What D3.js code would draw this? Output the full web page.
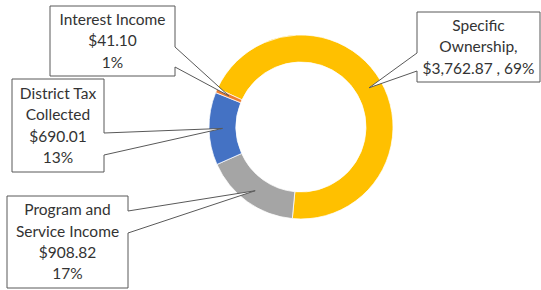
<!DOCTYPE html>
<html>
<head>
<meta charset="utf-8">
<script src="https://cdn.jsdelivr.net/npm/d3@7"></script>
<style>
  body { margin: 0; background: #fff; }
  svg text { font-family: Lato, 'Liberation Sans', sans-serif; fill: #333; }
</style>
</head>
<body>
<svg width="541" height="290"></svg>
<script>
var categories = ['Specific Ownership', 'Program and Service Income', 'District Tax Collected', 'Interest Income']
var amounts = [3762.87, 908.82, 690.01, 41.10]
var percentLabels = ['69%', '17%', '13%', '1%']
var labelLines = [
  ['Specific', 'Ownership,', '$3,762.87 , 69%'],
  ['Program and', 'Service Income', '$908.82', '17%'],
  ['District Tax', 'Collected', '$690.01', '13%'],
  ['Interest Income', '$41.10', '1%']
]
var colors = ['#FFC000', '#A5A5A5', '#4472C4', '#ED7D31']

// callout boxes: x, y, w, h, side of the pointer, where it leaves the box
var boxes = [
  { x: 417, y: 12, w: 123, h: 70, side: 'left', a1: 53, a2: 71 },
  { x: 7, y: 196, w: 121, h: 92, side: 'right', a1: 211, a2: 233 },
  { x: 12, y: 79, w: 92, h: 93, side: 'right', a1: 133, a2: 155 },
  { x: 50, y: 6, w: 125, h: 70, side: 'right', a1: 47, a2: 67 }
]

var svg = d3.select('svg')
var cx = 301, cy = 127
var outerR = 92, innerR = 65

var pie = d3.pie()
  .sort(null)
  .value(function(d) { return d })
  .startAngle(-65.3 * Math.PI / 180)
  .endAngle(-65.3 * Math.PI / 180 + 2 * Math.PI)

var arc = d3.arc().innerRadius(innerR).outerRadius(outerR)
var slices = pie(amounts)

var g = svg.append('g').attr('transform', 'translate(' + cx + ',' + cy + ')')
g.selectAll('path').data(slices).enter().append('path')
  .attr('d', arc)
  .attr('fill', function(d, i) { return colors[i] })
  .attr('stroke', '#fff')
  .attr('stroke-width', 0.75)

var callout = function(b, tip) {
  var l = b.x, r = b.x + b.w, t = b.y, btm = b.y + b.h
  if (b.side === 'right') {
    return 'M' + l + ',' + t + 'L' + r + ',' + t + 'L' + r + ',' + b.a1 +
      'L' + tip[0] + ',' + tip[1] + 'L' + r + ',' + b.a2 + 'L' + r + ',' + btm +
      'L' + l + ',' + btm + 'Z'
  }
  return 'M' + l + ',' + t + 'L' + r + ',' + t + 'L' + r + ',' + btm +
    'L' + l + ',' + btm + 'L' + l + ',' + b.a2 +
    'L' + tip[0] + ',' + tip[1] + 'L' + l + ',' + b.a1 + 'Z'
}

var labels = svg.append('g')
slices.forEach(function(s, i) {
  var c = arc.centroid(s)
  var tip = [cx + c[0], cy + c[1]]
  var b = boxes[i]
  labels.append('path')
    .attr('d', callout(b, tip))
    .attr('fill', '#fff')
    .attr('stroke', '#595959')
    .attr('stroke-width', 1)
  var lines = labelLines[i]
  var lh = 21.3
  var top = b.y + b.h / 2 - (lines.length - 1) * lh / 2
  labels.append('text')
    .attr('text-anchor', 'middle')
    .attr('font-size', 15.5)
    .selectAll('tspan').data(lines).enter().append('tspan')
    .attr('x', b.x + b.w / 2)
    .attr('y', function(d, j) { return top + j * lh })
    .attr('dy', '0.35em')
    .text(function(d) { return d })
})
</script>
</body>
</html>
